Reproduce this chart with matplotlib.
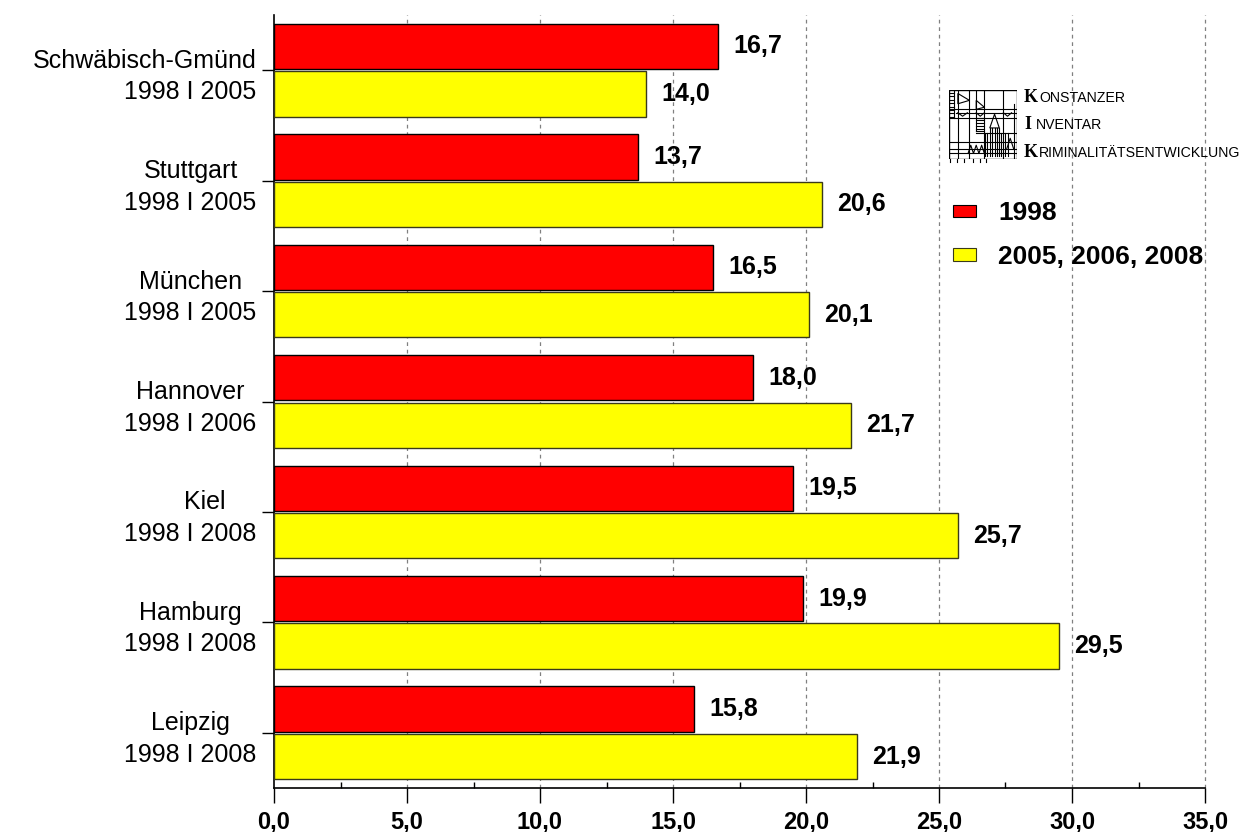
import matplotlib
matplotlib.use("Agg")
import matplotlib.pyplot as plt
from matplotlib.patches import Patch, Rectangle, Polygon
from matplotlib.ticker import MultipleLocator, FixedLocator
import numpy as np

plt.rcParams['font.family'] = ['Liberation Sans', 'DejaVu Sans']

# Data
cities = ["Schwäbisch-Gmünd", "Stuttgart", "München", "Hannover", "Kiel", "Hamburg", "Leipzig"]
periods = ["1998 I 2005", "1998 I 2005", "1998 I 2005", "1998 I 2006",
           "1998 I 2008", "1998 I 2008", "1998 I 2008"]
values_1998 = [16.7, 13.7, 16.5, 18.0, 19.5, 19.9, 15.8]
values_later = [14.0, 20.6, 20.1, 21.7, 25.7, 29.5, 21.9]
series_labels = ["1998", "2005, 2006, 2008"]
x_ticks = [0, 5, 10, 15, 20, 25, 30, 35]

W, H = 1244, 832
fig = plt.figure(figsize=(W / 100, H / 100), dpi=100)
ax = fig.add_axes([274 / W, 1 - 788 / H, (1205 - 274) / W, (788 - 15) / H])

pos = np.arange(len(cities))
bh = 0.41
off = 0.215
ax.barh(pos - off, values_1998, height=bh, color="#FF0000", edgecolor="black", linewidth=1.0, zorder=3)
ax.barh(pos + off, values_later, height=bh, color="#FFFF00", edgecolor="#3a3a1a", linewidth=1.0, zorder=3)

fmt = lambda v: f"{v:.1f}".replace(".", ",")
for p, v in zip(pos, values_1998):
    ax.annotate(fmt(v), (v, p - off), xytext=(11, 0), textcoords="offset points",
                ha="left", va="center", fontsize=18, fontweight="bold", zorder=4)
for p, v in zip(pos, values_later):
    ax.annotate(fmt(v), (v, p + off), xytext=(11, 0), textcoords="offset points",
                ha="left", va="center", fontsize=18, fontweight="bold", zorder=4)

ax.set_xlim(0, 35)
ax.set_ylim(len(cities) - 0.5, -0.5)

# x axis
ax.xaxis.set_major_locator(FixedLocator(x_ticks))
ax.set_xticklabels([fmt(t) for t in x_ticks], fontsize=17, fontweight="bold")
ax.xaxis.set_minor_locator(MultipleLocator(2.5))
ax.tick_params(axis="x", which="major", direction="out", length=11, width=1.0, pad=5, color="black")
ax.tick_params(axis="x", which="minor", direction="in", length=4.5, width=1.0, color="black")
for t in x_ticks[1:]:
    ax.axvline(t, color="#808080", linestyle=(0, (3, 3)), linewidth=0.9, zorder=1, clip_on=False)

# y axis
ax.set_yticks(pos)
labels = []
for c, pr in zip(cities, periods):
    if c == "Kiel":
        c = "    " + c
    labels.append(c + "\n" + pr)
ax.set_yticklabels(labels, fontsize=18, linespacing=1.4)
for lab in ax.get_yticklabels():
    lab.set_multialignment("center")
ax.get_yticklabels()[0].set_multialignment("right")
ax.tick_params(axis="y", direction="out", length=8.5, width=1.0, pad=4)

for s in ["top", "right"]:
    ax.spines[s].set_visible(False)
ax.spines["left"].set_linewidth(1.2)
ax.spines["bottom"].set_linewidth(1.2)

# Legend
handles = [Patch(facecolor="#FF0000", edgecolor="black", linewidth=0.8),
           Patch(facecolor="#FFFF00", edgecolor="#3a3a1a", linewidth=0.8)]
fig.legend(handles, series_labels, loc="upper left",
           bbox_to_anchor=(948 / W, 1 - 196 / H), frameon=False,
           prop={"size": 19, "weight": "bold"}, handlelength=0.85, handleheight=0.35,
           handletextpad=0.85, labelspacing=0.75, borderaxespad=0, borderpad=0.2)

# Institute logo
lx0, ly0, lw, lh = 949, 90, 68, 69
lax = fig.add_axes([lx0 / W, 1 - (ly0 + lh) / H, lw / W, lh / H])
lax.set_xlim(0, 100)
lax.set_ylim(100, 0)
lax.axis("off")
k = dict(color="black", linewidth=0.8)
lax.add_patch(Rectangle((0, 0), 100, 100, fill=False, edgecolor="black", linewidth=1.0))
for x, y0, y1 in [(7, 0, 40), (13, 0, 100), (30, 0, 100), (40, 0, 60), (52, 0, 100),
                  (80, 0, 100), (95, 20, 100)]:
    lax.plot([x, x], [y0, y1], **k)
for y, x0, x1 in [(28, 0, 100), (33, 10, 100), (40, 0, 100), (62, 40, 100), (75, 0, 100),
                  (85, 0, 100), (92, 0, 100)]:
    lax.plot([x0, x1], [y, y], **k)
for y in range(4, 40, 5):
    lax.plot([0, 7], [y, y], **k)
for y in range(40, 62, 4):
    lax.plot([40, 52], [y, y], **k)
lax.add_patch(Polygon([[13, 5], [30, 15], [13, 20]], closed=True, fill=False, **k))
lax.add_patch(Polygon([[40, 15], [52, 25], [40, 28]], closed=True, fill=False, **k))
lax.add_patch(Polygon([[60, 55], [67, 35], [74, 55]], closed=True, fill=False, **k))
for x in [60, 63, 67, 71, 74]:
    lax.plot([x, x], [55, 95], **k)
for x in [53, 56, 77, 83, 87]:
    lax.plot([x, x], [62, 95], **k)
lax.plot([28, 32, 36, 40, 44, 48, 52], [92, 80, 92, 80, 92, 80, 92], **k)
lax.plot([13, 20, 27], [33, 38, 33], **k)
lax.plot([40, 46, 52], [33, 38, 33], **k)
lax.plot([80, 86, 92], [33, 38, 33], **k)
lax.plot([85, 90, 95], [85, 70, 85], **k)
for x in [2, 12, 22, 35, 45, 55]:
    lax.plot([x, x], [100, 104], clip_on=False, **k)

def px(x, y):
    return x / W, 1 - y / H

big = dict(fontsize=13, fontweight="bold", family="Liberation Serif", va="baseline", ha="left")
small = dict(fontsize=10.2, va="baseline", ha="left", family="Liberation Sans")
for (bl, rest, base, xr) in [("K", "ONSTANZER", 102, 1039), ("I", "NVENTAR", 129, 1036),
                             ("K", "RIMINALITÄTSENTWICKLUNG", 157, 1039)]:
    fig.text(*px(1024, base), bl, **big)
    fig.text(*px(xr, base), rest, **small)

fig.savefig("out.png", dpi=100)
